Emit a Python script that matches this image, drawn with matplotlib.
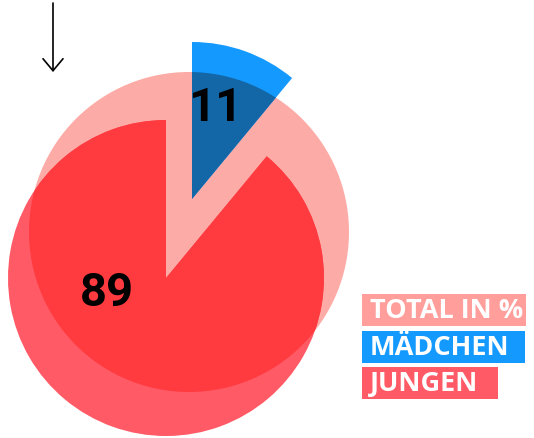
import matplotlib
matplotlib.use("Agg")
import matplotlib.pyplot as plt
from matplotlib.patches import Circle, Wedge, Rectangle, FancyArrowPatch

# data
shares = [11, 89]                    # maedchen, jungen (in %)
share_labels = ["11", "89"]
legend_labels = ["TOTAL IN %", "MÄDCHEN", "JUNGEN"]
legend_colors = ["#ff9e9a", "#1499ff", "#ff5a66"]
legend_widths = [164, 163, 136]

W, H = 534, 439
PINK = "#fdaba6"
BLUE, BLUE_DARK = "#1499ff", "#1467a6"
RED, RED_DARK = "#ff5a66", "#ff3b40"


def fy(py):
    # pixel row -> data y (y axis goes up)
    return H - py


fig = plt.figure(figsize=(W / 100, H / 100), dpi=100)
ax = fig.add_axes([0, 0, 1, 1])
ax.set_xlim(0, W)
ax.set_ylim(0, H)
ax.set_aspect("equal")
ax.axis("off")

# total circle
total = Circle((189, fy(233)), 160, color=PINK, lw=0)
ax.add_patch(total)

# angles: start at 12 o'clock, girls clockwise, boys the rest
girl_deg = shares[0] / 100 * 360
a_split = 90 - girl_deg

# jungen wedge (offset down-left)
red_c, red_r = (166, fy(279)), 158
ax.add_patch(Wedge(red_c, red_r, 90, a_split, color=RED, lw=0))
w = Wedge(red_c, red_r, 90, a_split, color=RED_DARK, lw=0)
ax.add_patch(w)
w.set_clip_path(total)

# maedchen wedge (offset up)
blue_c, blue_r = (192, fy(200)), 157
ax.add_patch(Wedge(blue_c, blue_r, a_split, 90, color=BLUE, lw=0))
w = Wedge(blue_c, blue_r, a_split, 90, color=BLUE_DARK, lw=0)
ax.add_patch(w)
w.set_clip_path(total)

# value labels
ax.text(215, fy(108), share_labels[0], fontsize=34, fontweight="bold",
        family="Roboto", color="black", ha="center", va="center")
ax.text(107, fy(293), share_labels[1], fontsize=34, fontweight="bold",
        family="Roboto", color="black", ha="center", va="center")

# arrow
ax.add_patch(FancyArrowPatch((53, fy(4)), (53, fy(73)),
                             arrowstyle="->,head_length=0.86,head_width=0.72",
                             mutation_scale=10, lw=1.2, color="black",
                             shrinkA=0, shrinkB=0))

# legend boxes
tops = [295, 332, 368]
for lab, col, wid, top in zip(legend_labels, legend_colors, legend_widths, tops):
    ax.add_patch(Rectangle((362, fy(top + 32)), wid, 32, color=col, lw=0))
    ax.text(370, fy(top + 16.5), lab, fontsize=19.5, fontweight="bold",
            family="Open Sans", color="white", ha="left", va="center")

fig.savefig("out.png", dpi=100)
